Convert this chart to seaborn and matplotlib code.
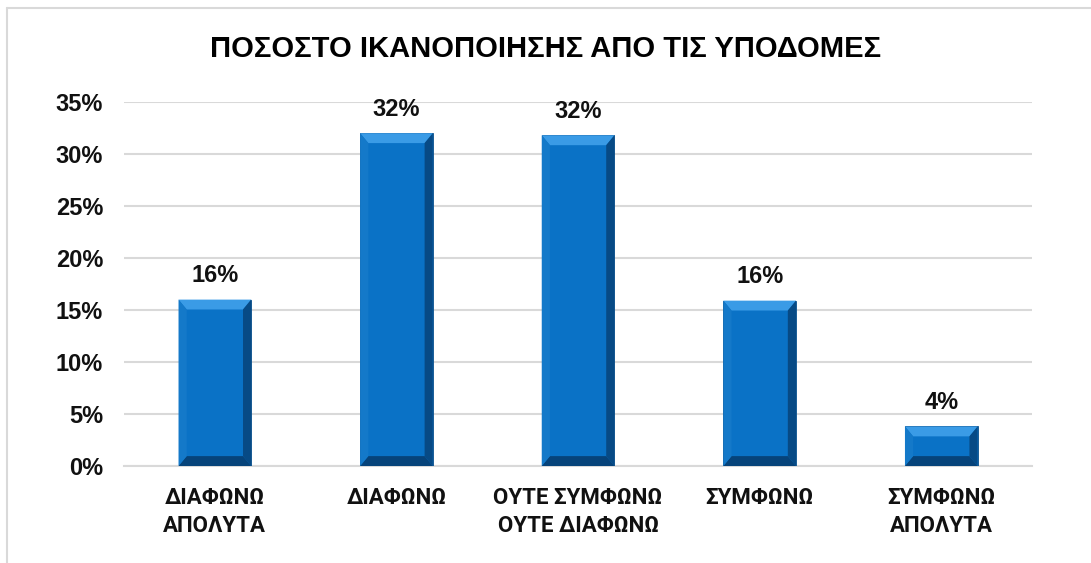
import matplotlib
matplotlib.use("Agg")
import matplotlib.pyplot as plt
import seaborn as sns
import pandas as pd
from matplotlib.patches import Polygon
from matplotlib.lines import Line2D

# =====================================================
# Data
# =====================================================

categories = [
    "ΔΙΑΦΩΝΩ\nΑΠΟΛΥΤΑ",
    "ΔΙΑΦΩΝΩ",
    "ΟΥΤΕ ΣΥΜΦΩΝΩ\nΟΥΤΕ ΔΙΑΦΩΝΩ",
    "ΣΥΜΦΩΝΩ",
    "ΣΥΜΦΩΝΩ\nΑΠΟΛΥΤΑ",
]

percent = [16.0, 32.0, 31.8, 15.9, 3.8]

y_ticks = [0, 5, 10, 15, 20, 25, 30, 35]

title = "ΠΟΣΟΣΤΟ ΙΚΑΝΟΠΟΙΗΣΗΣ ΑΠΟ ΤΙΣ ΥΠΟΔΟΜΕΣ"

df = pd.DataFrame({"category": categories, "percent": percent})

# =====================================================
# Figure
# =====================================================

sns.set_style("white")
plt.rcParams["font.family"] = ["Liberation Sans", "DejaVu Sans"]

fig = plt.figure(figsize=(10.91, 5.63), dpi=100)
ax = fig.add_axes([0.1137, 0.1723, 0.8323, 0.6465])

sns.barplot(
    data=df,
    x="category",
    y="percent",
    color="#0A72C6",
    width=0.4,
    saturation=1,
    ax=ax,
    zorder=3,
)

ax.set_ylim(0, 35)
ax.set_yticks(y_ticks)
ax.set_yticklabels([f"{t}%" for t in y_ticks], fontsize=17,
                   fontweight="bold", color="#111111")
ax.set_xticks(range(len(categories)))
ax.set_xticklabels(categories, fontsize=16, fontweight="bold",
                   family=["Roboto", "DejaVu Sans"], linespacing=1.38,
                   color="#111111")
ax.tick_params(axis="y", length=0, pad=15)
ax.tick_params(axis="x", length=0, pad=15)
ax.set_xlabel("")
ax.set_ylabel("")

ax.grid(axis="y", color="#d9d9d9", linewidth=1.5, zorder=0)
ax.set_axisbelow(True)
for side in ["top", "right", "left"]:
    ax.spines[side].set_visible(False)
ax.spines["bottom"].set_color("#d9d9d9")
ax.spines["bottom"].set_linewidth(1.5)

# =====================================================
# Bevel effect on each bar
# =====================================================

bx = 0.045
by = 0.95

for bar, value in zip(ax.patches, percent):

    x0 = bar.get_x()
    w = bar.get_width()
    h = bar.get_height()
    x1 = x0 + w

    bar.set_edgecolor("#0b4f8a")
    bar.set_linewidth(0.6)

    pieces = [
        ([(x0, h), (x1, h), (x1 - bx, h - by), (x0 + bx, h - by)], "#3a9be6"),
        ([(x1, h), (x1, 0), (x1 - bx, by), (x1 - bx, h - by)], "#074a85"),
        ([(x0, 0), (x1, 0), (x1 - bx, by), (x0 + bx, by)], "#06437a"),
        ([(x0, h), (x0, 0), (x0 + bx, by), (x0 + bx, h - by)], "#1479c9"),
    ]
    for pts, col in pieces:
        ax.add_patch(Polygon(pts, closed=True, facecolor=col,
                             edgecolor="none", zorder=4))

    ax.text(
        bar.get_x() + w / 2,
        h + 1.2,
        f"{value:.0f}%",
        ha="center",
        va="bottom",
        fontsize=17,
        fontweight="bold",
        color="#111111",
        zorder=5,
    )

# =====================================================
# Title and frame
# =====================================================

fig.text(0.5, 0.913, title, ha="center", va="center",
         fontsize=21, fontweight="bold", color="#000000")

fig.add_artist(Line2D([7 / 1091, 1.0], [1 - 8 / 563, 1 - 8 / 563],
                      color="#d9d9d9", linewidth=1.5))
fig.add_artist(Line2D([7 / 1091, 7 / 1091], [0.0, 1 - 8 / 563],
                      color="#d9d9d9", linewidth=1.5))

fig.savefig("out.png", dpi=100, facecolor="white")
